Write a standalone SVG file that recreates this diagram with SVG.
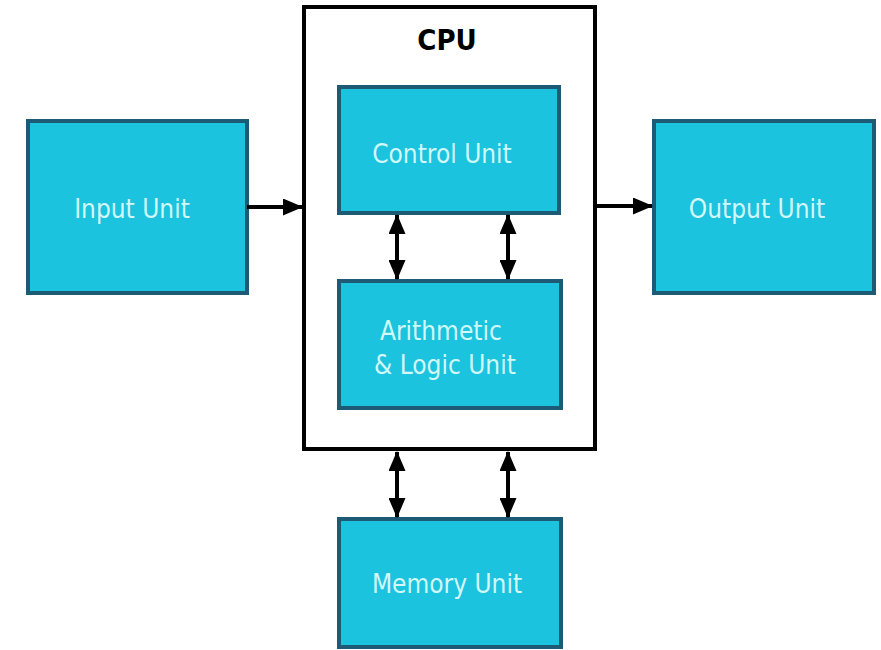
<svg xmlns="http://www.w3.org/2000/svg" width="881" height="650" viewBox="0 0 881 650">
<defs>
<style>
.box{fill:#1bc3df;stroke:#1d5a75;stroke-width:4}
.lbl{font-family:"DejaVu Sans Condensed","DejaVu Sans",sans-serif;font-stretch:condensed;font-size:26px;fill:#d2f8f8}
.con{stroke:#000;stroke-width:4;fill:none}
</style>
<marker id="ah" viewBox="0 0 20 17" refX="19" refY="8.5" markerWidth="5" markerHeight="4.25" orient="auto-start-reverse" markerUnits="strokeWidth">
<path d="M0,0 L20,8.5 L0,17 z" fill="#000"/>
</marker>
</defs>
<rect width="881" height="650" fill="#fff"/>
<g id="cpu">
<rect x="304" y="7" width="291" height="442" fill="#fff" stroke="#000" stroke-width="4"/>
<text x="447" y="50" text-anchor="middle" font-family="'DejaVu Sans Condensed','DejaVu Sans',sans-serif" font-stretch="condensed" font-weight="bold" font-size="29" fill="#000">CPU</text>
</g>
<g id="input">
<rect class="box" x="28" y="121" width="219" height="172"/>
<text class="lbl" x="132" y="218" text-anchor="middle">Input Unit</text>
</g>
<g id="control">
<rect class="box" x="339" y="87" width="220" height="126"/>
<text class="lbl" x="442" y="163" text-anchor="middle">Control Unit</text>
</g>
<g id="alu">
<rect class="box" x="339" y="281" width="222" height="127"/>
<text class="lbl" x="380" y="340">Arithmetic</text>
<text class="lbl" x="374" y="374"> &amp; Logic Unit</text>
</g>
<g id="output">
<rect class="box" x="654" y="121" width="220" height="172"/>
<text class="lbl" x="757" y="218" text-anchor="middle">Output Unit</text>
</g>
<g id="memory">
<rect class="box" x="339" y="519" width="222" height="128"/>
<text class="lbl" x="447" y="593" text-anchor="middle">Memory Unit</text>
</g>
<g id="connectors">
<line class="con" x1="247" y1="207" x2="302" y2="207" marker-end="url(#ah)"/>
<line class="con" x1="596" y1="206" x2="652" y2="206" marker-end="url(#ah)"/>
<line class="con" x1="397" y1="215" x2="397" y2="279" marker-start="url(#ah)" marker-end="url(#ah)"/>
<line class="con" x1="508" y1="215" x2="508" y2="279" marker-start="url(#ah)" marker-end="url(#ah)"/>
<line class="con" x1="397" y1="452" x2="397" y2="517" marker-start="url(#ah)" marker-end="url(#ah)"/>
<line class="con" x1="508" y1="452" x2="508" y2="517" marker-start="url(#ah)" marker-end="url(#ah)"/>
</g>
</svg>
